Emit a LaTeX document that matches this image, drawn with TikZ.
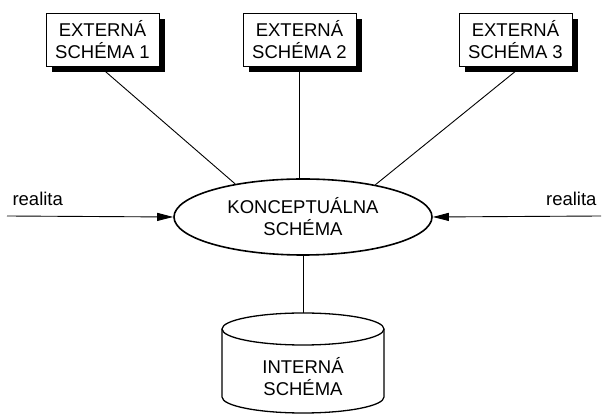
\documentclass[tikz,border=0pt]{standalone}
\usepackage{fontspec}
\setmainfont{Liberation Sans}
\usetikzlibrary{shapes.geometric,shadows,arrows.meta,backgrounds}

\begin{document}
\begin{tikzpicture}
[x=1pt,y=1pt,every node/.style={font=\fontsize{18.5}{22}\selectfont,align=center},extern/.style={draw,fill=white,line width=.8pt,minimum width=113pt,minimum height=53pt,inner sep=0pt,drop shadow={shadow xshift=6pt,shadow yshift=-6pt,fill=black,opacity=1}},concept/.style={draw,ellipse,fill=white,line width=1.6pt,minimum width=258pt,minimum height=76pt,inner sep=0pt},store/.style={line width=1.3pt},link/.style={line width=.9pt},feed/.style={line width=.9pt,-{Triangle[length=16pt,width=8pt]}},]
\useasboundingbox (0,0) rectangle (604,414);
\node[extern](ext1) at (102.5,374.5){EXTERNÁ\\SCHÉMA 1};
\node[extern](ext2) at (299.5,374.5){EXTERNÁ\\SCHÉMA 2};
\node[extern](ext3) at (515.5,374.5){EXTERNÁ\\SCHÉMA 3};
\node[concept](konc) at (303,197){KONCEPTUÁLNA\\SCHÉMA};
\node(intr) at (303,37.5){INTERNÁ\\SCHÉMA};
\coordinate(cylTop) at ([yshift=47.5]intr.center);
\coordinate(cylBot) at ([yshift=-20.5]intr.center);
\coordinate(cylCap) at ([yshift=16]cylTop);
\draw[store] (cylTop) ellipse[x radius=81,y radius=16];
\draw[store] ([xshift=-81]cylTop) -- ([xshift=-81]cylBot) arc[start angle=180,end angle=360,x radius=81,y radius=16] -- ([xshift=81]cylTop);
\coordinate(realL) at (7,198);
\coordinate(realR) at (601,198);
\node[anchor=base west](txtL) at ([shift={(2,10)}]realL){realita};
\node[anchor=base east](txtR) at ([shift={(-1,10)}]realR){realita};
\begin{scope}[on background layer]
\draw[link] ([xshift=-3pt]ext1.south) -- (konc.154);
\draw[link] (ext2.south) -- (ext2.south |- konc.north);
\draw[link] ([xshift=6pt]ext3.south) -- (konc.24);
\end{scope}
\draw[link] (konc.south) -- (cylCap);
\draw[feed] (realL) -- (konc.west);
\draw[feed] (realR) -- (konc.east);
\end{tikzpicture}
\end{document}
